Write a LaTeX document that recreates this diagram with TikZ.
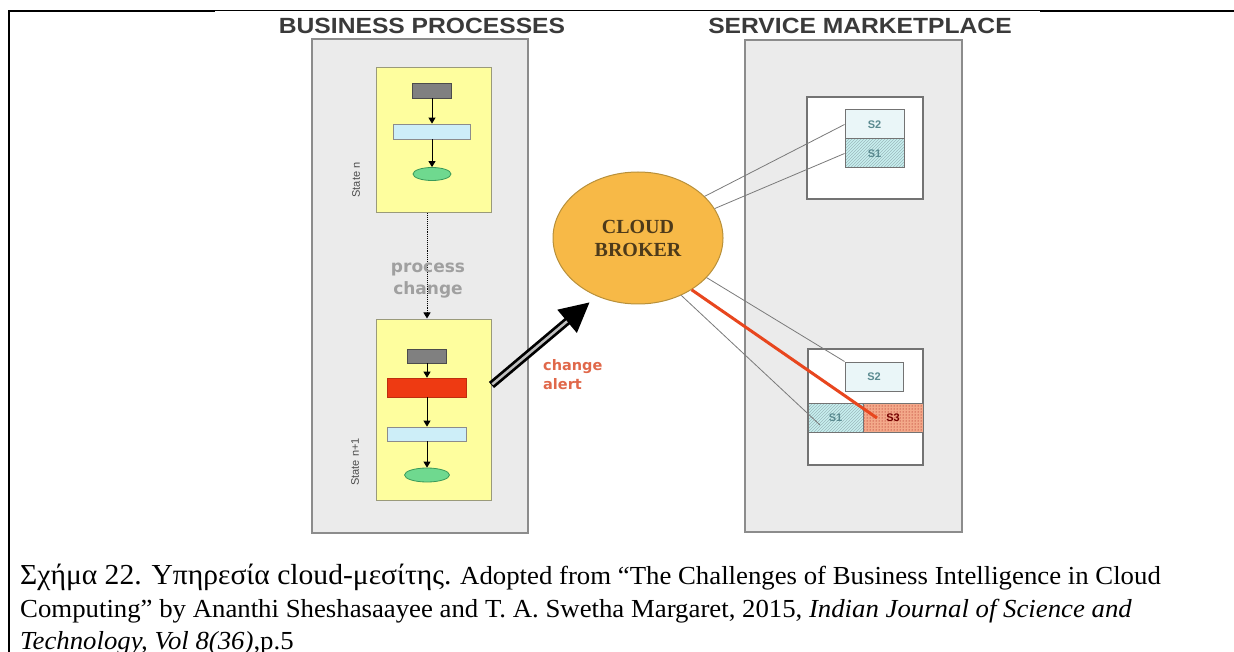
\documentclass[tikz,border=0pt]{standalone}
\usepackage{fontspec}
\setmainfont{Liberation Serif}
\newfontfamily\titlefont[FakeStretch=1.12]{Liberation Sans}
\newfontfamily\labfont{Liberation Sans}
\newfontfamily\verd{DejaVu Sans}
\newfontfamily\capgreek[FakeStretch=1.02]{Liberation Serif}
\newfontfamily\capcond[FakeStretch=1.03]{Liberation Serif}
\usetikzlibrary{arrows.meta,patterns,shapes.geometric,calc}
\definecolor{panelgray}{HTML}{EBEBEB}
\definecolor{panelline}{HTML}{8C8C8C}
\definecolor{yel}{HTML}{FEFE9E}
\definecolor{yelline}{HTML}{9A9A7A}
\definecolor{ltblue}{HTML}{CDEEF8}
\definecolor{grn}{HTML}{6FD98F}
\definecolor{grnline}{HTML}{3A9A5A}
\definecolor{redbox}{HTML}{EE3A12}
\definecolor{brokerfill}{HTML}{F7B947}
\definecolor{brokerline}{HTML}{B8903A}
\definecolor{brokertext}{HTML}{4D3A1A}
\definecolor{alertred}{HTML}{E0684A}
\definecolor{procgray}{HTML}{A0A0A0}
\definecolor{stext}{HTML}{5A8A90}
\definecolor{sfill}{HTML}{EAF6F8}
\definecolor{scyan}{HTML}{C8F0F0}
\definecolor{ssalmon}{HTML}{F3A98A}
\definecolor{connline}{HTML}{7A7A7A}
\definecolor{titlegray}{HTML}{3A3A3A}
\definecolor{alertline}{HTML}{E8461E}
\begin{document}
\begin{tikzpicture}[x=1pt,y=-1pt,
  panel/.style={draw=panelline,line width=1.5pt,fill=panelgray,minimum width=#1,inner sep=0pt},
  ptitle/.style={font=\titlefont\bfseries\fontsize{22}{26}\selectfont,text=titlegray,inner sep=0pt},
  statebox/.style={draw=yelline,line width=1pt,fill=yel,inner sep=0pt},
  grayrect/.style={draw=black!70,line width=0.8pt,fill=black!50,inner sep=0pt},
  bluerect/.style={draw=black!45,line width=0.8pt,fill=ltblue,inner sep=0pt},
  redrect/.style={draw=redbox!80!black,line width=0.6pt,fill=redbox,inner sep=0pt},
  endell/.style={ellipse,draw=grnline,line width=0.8pt,fill=grn,inner sep=0pt},
  statelab/.style={rotate=90,font=\labfont\fontsize{11}{13}\selectfont,text=black!70,inner sep=0pt},
  flow/.style={black,line width=0.9pt,-{Triangle[length=6pt,width=7pt]}},
  whitebox/.style={draw=black!55,line width=1.2pt,fill=white,inner sep=0pt},
  sbox/.style={draw=black!55,line width=1pt,inner sep=0pt,font=\labfont\bfseries\fontsize{11}{13}\selectfont,text=stext},
  slab/.style={font=\labfont\bfseries\fontsize{11}{13}\selectfont,text=stext,inner sep=0pt},
  conn/.style={connline,line width=0.8pt},
  capline/.style={anchor=base west,inner sep=0pt,font=\fontsize{26}{30}\selectfont}
]
\useasboundingbox (0,0) rectangle (1234,652);
% frame
\draw[line width=2pt] (9,652) -- (9,11) -- (215,11);
\draw[line width=1pt] (215,11) -- (1040,11);
\draw[line width=2pt] (1040,11) -- (1234,11);

% panels
\node[panel=216pt,minimum height=494pt] (bp) at (420,286) {};
\node[panel=217pt,minimum height=492pt] (sm) at (853.5,286) {};
\node[ptitle] (bpt) at (422,26) {BUSINESS PROCESSES};
\node[ptitle] (smt) at (860,26) {SERVICE MARKETPLACE};

% state n
\node[statebox,minimum width=115pt,minimum height=145pt] (st1) at (433.5,140.5) {};
\node[grayrect,minimum width=39pt,minimum height=15pt] (g1) at (432,90.5) {};
\node[bluerect,minimum width=77pt,minimum height=15pt] (b1) at (432,131.5) {};
\node[endell,minimum width=38pt,minimum height=13pt] (e1) at (432,174) {};
\node[statelab] (l1) at (356,180) {State n};
\draw[flow] (g1.south) -- (b1.north);
\draw[flow] (b1.south) -- (e1.north);

% state n+1
\node[statebox,minimum width=115pt,minimum height=181pt] (st2) at (433.5,409.5) {};
\node[grayrect,minimum width=39pt,minimum height=14pt] (g2) at (427,356) {};
\node[redrect,minimum width=79pt,minimum height=19pt] (r2) at (427,387.5) {};
\node[bluerect,minimum width=79pt,minimum height=14pt] (b2) at (427,434) {};
\node[endell,minimum width=45pt,minimum height=14pt] (e2) at (427,475) {};
\node[statelab] (l2) at (355,462) {State n+1};
\draw[flow] (g2.south) -- (r2.north);
\draw[flow] (r2.south) -- (b2.north);
\draw[flow] (b2.south) -- (e2.north);

% process change
\draw[black,line width=0.9pt,densely dotted,-{Triangle[length=6pt,width=7pt]}] (st1.south -| e2.center) -- (st2.north -| e2.center);
\node[font=\verd\bfseries\fontsize{17}{22}\selectfont,text=procgray,align=center,inner sep=0pt] (pc) at (428,281) {process\\change};

% cloud broker
\node[ellipse,draw=brokerline,line width=1pt,fill=brokerfill,minimum width=170pt,minimum height=132pt,inner sep=0pt,
  font=\bfseries\fontsize{20}{23}\selectfont,text=brokertext,align=center] (cb) at (638,238) {CLOUD\\BROKER};

% change alert arrow
\coordinate (aS) at (st2.east |- 0,385);
\coordinate (aT) at (590,302);
\draw[black,line width=8pt,-{Triangle[length=30pt,width=28pt]}] (aS) -- (aT);
\draw[black!25,line width=2.5pt,shorten >=30pt,shorten <=1pt] (aS) -- (aT);
\node[font=\verd\bfseries\fontsize{14.5}{19}\selectfont,text=alertred,align=left,anchor=west,inner sep=0pt] (ca) at (543,374.5) {change\\alert};

% top marketplace box
\node[whitebox,minimum width=116pt,minimum height=102pt] (tb) at (865,148) {};
\node[sbox,fill=sfill,minimum width=59pt,minimum height=29pt] (ts2) at (874.5,124.5) {S2};
\node[sbox,preaction={fill=scyan},pattern=north east lines,pattern color=stext!60,minimum width=59pt,minimum height=29pt] (ts1) at (874.5,153.5) {};
\node[slab] (ts1l) at (ts1) {S1};

% bottom marketplace box
\node[whitebox,minimum width=115pt,minimum height=116pt] (bb) at (865.5,407) {};
\node[sbox,fill=sfill,minimum width=58pt,minimum height=29pt] (bs2) at (874,376.5) {S2};
\node[sbox,preaction={fill=scyan},pattern=north east lines,pattern color=stext!60,minimum width=55pt,minimum height=29pt] (bs1) at (835.5,417.5) {};
\node[slab] (bs1l) at (bs1) {S1};
\node[sbox,preaction={fill=ssalmon},pattern=dots,pattern color=red!60!black,minimum width=60pt,minimum height=29pt] (bs3) at (893,417.5) {};
\node[slab,text=red!45!black] (bs3l) at (bs3) {S3};

% connectors
\coordinate (s3pt) at (877,418);
\coordinate (s1pt) at (820,425);
\draw[conn] (cb.32) -- (ts2.west);
\draw[conn] (cb.21) -- (ts1.west);
\draw[conn] (cb.-30) -- (bs2.north west);
\draw[conn] (cb.-53) -- (s1pt);
\draw[alertline,line width=3pt] (cb.-44) -- (s3pt);

% caption
\node[capline] (c1) at (20,584) {{\capgreek\fontsize{29}{30}\selectfont Σχήμα 22. Υπηρεσία cloud-μεσίτης.} {\capcond Adopted from “The Challenges of Business Intelligence in Cloud}};
\node[capline] (c2) at (20,617) {\capcond Computing” by Ananthi Sheshasaayee and T. A. Swetha Margaret, 2015, \textit{Indian Journal of Science and}};
\node[capline] (c3) at (20,649) {\capcond\textit{Technology, Vol 8(36)},p.5};
\end{tikzpicture}
\end{document}
